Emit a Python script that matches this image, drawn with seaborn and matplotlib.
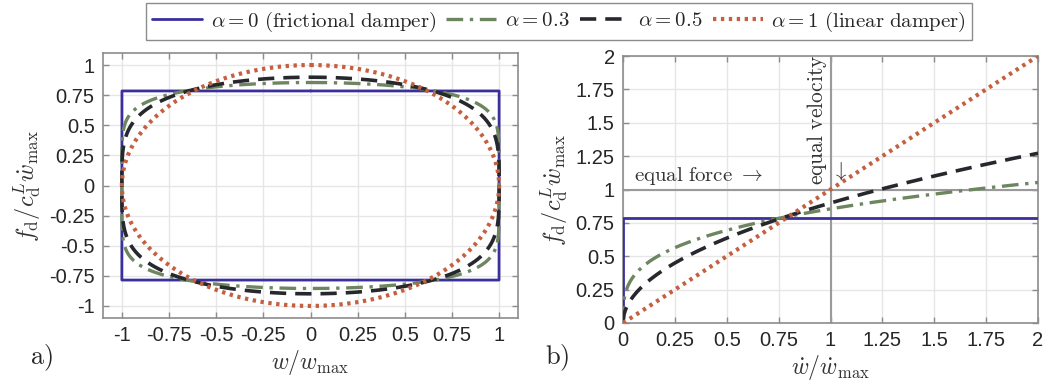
import numpy as np
import pandas as pd
import matplotlib
matplotlib.use("Agg")
import matplotlib.pyplot as plt
import seaborn as sns

# Damping exponents and the force amplitudes (normalised by c_d^L * wdot_max)
alphas = [0.0, 0.3, 0.5, 1.0]
force_coeffs = [0.785, 0.855, 0.899, 1.0]
labels = [
    r"$\alpha = 0\ \mathrm{(frictional\ damper)}$",
    r"$\alpha = 0.3$",
    r"$\alpha = 0.5$",
    r"$\alpha = 1\ \mathrm{(linear\ damper)}$",
]
colors = ["#3a2f9c", "#6d8660", "#26282d", "#c4603f"]
linestyles = ["-", (0, (5, 2, 1, 2)), (0, (4.5, 2.5)), (0, (0.8, 1.1))]
linewidths = [2.0, 2.4, 2.6, 3.0]

left_ticks = [-1, -0.75, -0.5, -0.25, 0, 0.25, 0.5, 0.75, 1]
left_ticklabels = ["-1", "-0.75", "-0.5", "-0.25", "0", "0.25", "0.5", "0.75", "1"]
right_ticks = [0, 0.25, 0.5, 0.75, 1, 1.25, 1.5, 1.75, 2]
right_ticklabels = ["0", "0.25", "0.5", "0.75", "1", "1.25", "1.5", "1.75", "2"]

sns.set_theme(style="whitegrid")
plt.rcParams["font.family"] = ["Liberation Sans", "DejaVu Sans"]
plt.rcParams["mathtext.fontset"] = "cm"
plt.rcParams["axes.unicode_minus"] = False

fig = plt.figure(figsize=(10.57, 3.83), dpi=100)
W, H = 1057, 383
axL = fig.add_axes([103 / W, (H - 318) / H, 415 / W, 265 / H])
axR = fig.add_axes([623 / W, (H - 323) / H, 415 / W, 267 / H])

# Force-displacement loops for harmonic motion w = sin t, wdot = cos t
t = np.linspace(0, 2 * np.pi, 2001)
w = np.sin(t)
v = np.cos(t)
vel = np.concatenate([[0.0], np.linspace(0, 2, 401)])

handles = []
for a, c, lab, col, ls, lw in zip(alphas, force_coeffs, labels, colors, linestyles, linewidths):
    f_loop = c * np.sign(v) * np.abs(v) ** a
    loop = pd.DataFrame({"w": w, "f": f_loop})
    sns.lineplot(data=loop, x="w", y="f", sort=False, estimator=None, ax=axL,
                 color=col, linestyle=ls, linewidth=lw)
    f_vel = c * vel[1:] ** a
    curve = pd.DataFrame({"v": vel, "f": np.concatenate([[0.0], f_vel])})
    sns.lineplot(data=curve, x="v", y="f", sort=False, estimator=None, ax=axR,
                 color=col, linestyle=ls, linewidth=lw, zorder=3)
    handles.append(axL.lines[-1])

# Reference lines for equal force and equal velocity
axR.axhline(1, color="#9a9a9a", lw=1.5, zorder=2)
axR.axvline(1, color="#9a9a9a", lw=1.5, zorder=2)

axR.text(0.055, 1.06, r"$\mathrm{equal\ force}\ \rightarrow$", fontsize=15,
         color="#333333", ha="left", va="baseline")
axR.text(0.935, 1.03, r"$\mathrm{equal\ velocity}$", fontsize=15.5, rotation=90,
         color="#333333", ha="center", va="bottom")
axR.text(1.045, 1.14, r"$\downarrow$", fontsize=15, color="#333333",
         ha="center", va="center")

for ax, ticks, tl, xl in [
    (axL, left_ticks, left_ticklabels, r"$w/w_{\mathrm{max}}$"),
    (axR, right_ticks, right_ticklabels, r"$\dot{w}/\dot{w}_{\mathrm{max}}$"),
]:
    ax.set_xticks(ticks)
    ax.set_xticklabels(tl)
    ax.set_xlabel(xl, fontsize=17, labelpad=2, color="#333333")
    ax.set_ylabel(r"$f_{\mathrm{d}}/c_{\mathrm{d}}^{L}\dot{w}_{\mathrm{max}}$",
                  fontsize=17.5, labelpad=4, color="#333333")
    ax.grid(True, color="#e6e6e6", lw=1.0)
    for s in ax.spines.values():
        s.set_color("#8c8c8c")
        s.set_linewidth(1.2)
        s.set_visible(True)
    ax.tick_params(direction="in", length=4, width=1, color="#8c8c8c",
                   top=True, right=True, bottom=True, left=True,
                   labelsize=14.5, labelcolor="#262626", pad=6)
    ax.set_facecolor("white")

axL.set_xlim(-1.1, 1.1)
axL.set_ylim(-1.1, 1.1)
axL.set_yticks(left_ticks)
axL.set_yticklabels(left_ticklabels)
axR.set_xlim(0, 2)
axR.set_ylim(0, 2)
axR.set_yticks(right_ticks)
axR.set_yticklabels(right_ticklabels)

fig.text(30 / W, 1 - 358 / H, r"$\mathrm{a)}$", fontsize=19, ha="left", va="center")
fig.text(545 / W, 1 - 358 / H, r"$\mathrm{b)}$", fontsize=19, ha="left", va="center")

fig.legend(handles=handles, labels=labels, loc="upper center",
           bbox_to_anchor=(559 / W, 1.0), ncol=4, frameon=True, fancybox=False,
           edgecolor="#8c8c8c", framealpha=1, fontsize=15, handlelength=2.4,
           handletextpad=0.4, columnspacing=0.5, borderpad=0.3, borderaxespad=0.15)

fig.savefig("out.png", dpi=100)
